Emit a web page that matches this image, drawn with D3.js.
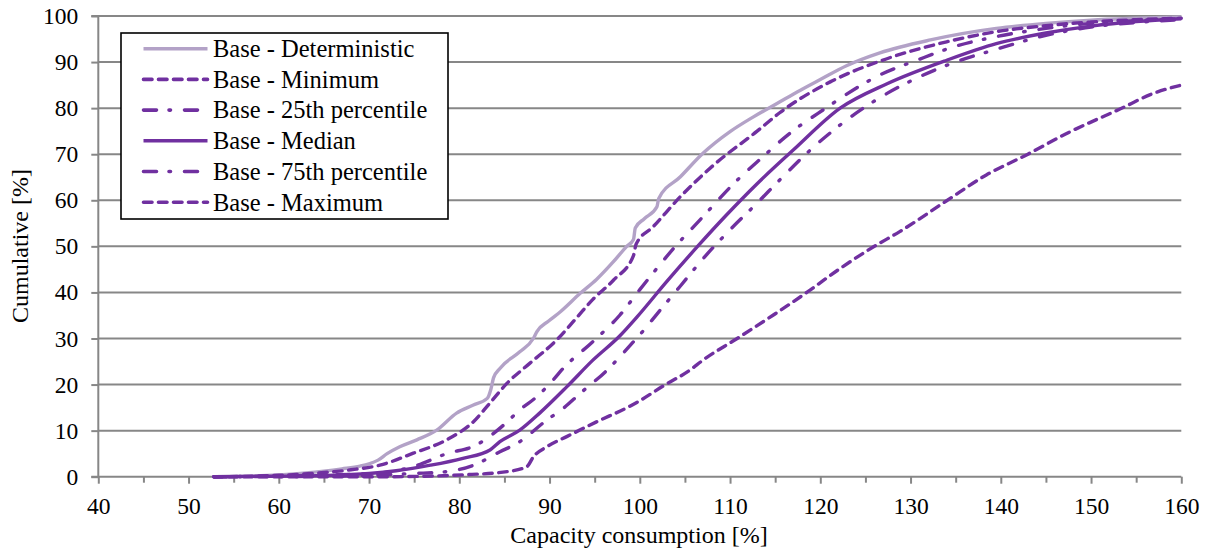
<!DOCTYPE html>
<html>
<head>
<meta charset="utf-8">
<script src="https://cdn.jsdelivr.net/npm/d3@7"></script>
<style>
  html, body { margin: 0; padding: 0; background: #ffffff; }
  svg { display: block; }
  text { font-family: "Liberation Serif", "Times New Roman", serif; fill: #000; }
</style>
</head>
<body>
<svg id="chart" width="1209" height="551"></svg>
<script>
// Cumulative distributions of capacity consumption: [capacity %, cumulative %]
const deterministic = [[52.8,0],[56,0.1],[60,0.4],[63,0.8],[65,1.2],[67,1.7],[69,2.3],[70,2.8],[71,3.6],[72,5],[73.4,6.5],[75.3,8.0],[77.5,10.1],[79.7,13.8],[81.5,15.5],[83.1,17.0],[83.5,19],[83.8,21.5],[84.5,23.5],[86.7,27.1],[88.2,30.0],[88.6,31.5],[89.9,33.8],[91.2,35.8],[93.4,39.8],[95.2,42.8],[97,46.5],[98.5,49.9],[99.3,51.5],[99.5,54],[100.5,56],[101.9,58.6],[102.1,60.4],[104.5,65.1],[107,70.2],[110,74.9],[112.5,78],[115.2,81.0],[117.8,83.9],[120,86.2],[122.9,89.2],[126.6,92.0],[132.2,94.8],[139.5,97.3],[145,98.4],[150,99.1],[155,99.5],[160,99.8]];
const minimum = [[52.8,0],[57,0.1],[60,0.3],[65,0.9],[68,1.5],[71.2,2.5],[74.9,5.1],[78.6,8.0],[81.6,12.0],[83.4,16.0],[85.3,20.3],[87.8,24.6],[90.8,29.7],[93,34.5],[94.8,38.5],[97.1,42.7],[99.3,48],[99.6,50.5],[101.5,54.3],[104.5,60.8],[108.1,67.5],[113,75.0],[115.5,79.0],[121.1,85.7],[126.6,90.2],[134,94.4],[139.5,96.6],[145,97.9],[150,98.7],[155,99.2],[160,99.5]];
const pct25 = [[52.8,0],[60,0.15],[65,0.35],[68,0.5],[71.2,0.8],[74.9,2.2],[78.6,5.0],[81.9,6.9],[83.8,9.4],[85.3,11.9],[86.7,14.5],[88.6,17.4],[90.4,21.0],[91.5,23.5],[94.8,29.3],[97.8,35.1],[100,40.6],[101.1,43.3],[103.9,49.9],[106.7,55.8],[110.5,63.8],[113.5,69.2],[116.6,74.5],[120.3,79.6],[126.6,87.2],[130.7,90.4],[135.1,93.5],[139.2,95.4],[145,97.3],[150,98.4],[155,99.0],[160,99.4]];
const median = [[52.8,0],[60,0.1],[65,0.25],[70,0.7],[73,1.3],[76.8,2.5],[80.4,4.0],[83.4,5.8],[84.5,7.6],[86.7,10.1],[88.9,13.8],[91.9,19.5],[94.8,25.3],[97.8,30.6],[99.7,34.7],[103,42.4],[106.5,50.2],[109.6,56.8],[113,63.6],[117,70.9],[122.2,80.0],[127.4,85.3],[134,90.4],[139.5,94.0],[145,96.3],[150,97.8],[155,98.8],[160,99.4]];
const pct75 = [[52.8,0],[62,0.05],[66,0.1],[71.2,0.4],[75,0.7],[78.6,1.1],[81.6,2.5],[84.5,5.4],[86.7,7.6],[89.7,12.3],[91.5,14.8],[93.4,18.1],[96.2,22.8],[99.3,29.3],[100.4,31.7],[101.9,35.3],[104.5,41.4],[107,47.3],[110,53.6],[113,59.4],[115.5,64.4],[118.5,70.2],[122.9,77.4],[127.4,83.2],[131,86.8],[135.1,90.1],[139.2,92.6],[145,95.8],[150,97.6],[155,98.6],[160,99.2]];
const maximum = [[52.8,0],[65,0],[72,0],[76,0.1],[80.4,0.4],[85.3,1.1],[87.5,2.2],[88.2,4.3],[89.7,6.5],[91.9,8.7],[95.2,11.9],[98.9,15.3],[100,16.5],[102.6,19.7],[105.6,23.2],[107,25.3],[110.7,29.9],[114.8,35.1],[118.5,40.0],[122.2,45.2],[125.9,49.9],[128.8,53.2],[134,59.9],[138.4,65.5],[142.9,69.9],[147.3,74.5],[153.2,79.8],[156.9,83.2],[160,85.0]];

const seriesNames = ["Base - Deterministic","Base - Minimum","Base - 25th percentile","Base - Median","Base - 75th percentile","Base - Maximum"];
const xTicks = [40,50,60,70,80,90,100,110,120,130,140,150,160];
const xMinorTicks = [45,55,65,75,85,95,105,115,125,135,145,155];
const yTicks = [0,10,20,30,40,50,60,70,80,90,100];

const LIGHT = "#b3a2c7", PURPLE = "#7030a0";
const DASH = "8.5,6.5", DASHDOT = "13,12.5,1.5,14";
const styles = [
  {color: LIGHT,  dash: null},
  {color: PURPLE, dash: DASH},
  {color: PURPLE, dash: DASHDOT},
  {color: PURPLE, dash: null},
  {color: PURPLE, dash: DASHDOT},
  {color: PURPLE, dash: DASH}
];
const seriesData = [deterministic, minimum, pct25, median, pct75, maximum];

const svg = d3.select("#chart");
const plotLeft = 98.3, plotRight = 1181.3, plotTop = 16, plotBottom = 476.7;
const x = d3.scaleLinear().domain([40,160]).range([plotLeft, plotRight]);
const y = d3.scaleLinear().domain([0,100]).range([plotBottom, plotTop]);
const GRID = "#878787";

// horizontal gridlines
svg.append("g").selectAll("line").data(yTicks.filter(d => d > 0)).join("line")
  .attr("x1", plotLeft).attr("x2", plotRight)
  .attr("y1", d => y(d)).attr("y2", d => y(d))
  .attr("stroke", GRID).attr("stroke-width", 2);

// y axis
const yAxis = svg.append("g").attr("transform", `translate(${plotLeft},0)`)
  .call(d3.axisLeft(y).tickValues(yTicks).tickSize(7).tickPadding(13).tickFormat(d3.format("d")));
yAxis.select(".domain").attr("stroke", GRID).attr("stroke-width", 2).attr("d", `M-7,${plotTop}H0V${plotBottom}H-7`);
yAxis.selectAll(".tick line").attr("stroke", GRID).attr("stroke-width", 2);
yAxis.selectAll(".tick text").attr("font-size", 23.5).attr("fill", "#000");

// x axis with minor ticks
const xAxisMinor = svg.append("g").attr("transform", `translate(0,${plotBottom})`)
  .call(d3.axisBottom(x).tickValues(xMinorTicks).tickSize(6).tickFormat(""));
xAxisMinor.select(".domain").remove();
xAxisMinor.selectAll(".tick line").attr("stroke", GRID).attr("stroke-width", 2);

const xAxis = svg.append("g").attr("transform", `translate(0,${plotBottom})`)
  .call(d3.axisBottom(x).tickValues(xTicks).tickSize(7).tickFormat(d3.format("d")));
xAxis.select(".domain").attr("stroke", GRID).attr("stroke-width", 2).attr("d", `M${plotLeft},0H${plotRight}`);
xAxis.selectAll(".tick line").attr("stroke", GRID).attr("stroke-width", 2);
xAxis.selectAll(".tick text").attr("font-size", 23.5)
  .attr("fill", "#000").attr("y", 37).attr("dy", 0);

// curves
const line = d3.line().x(d => x(d[0])).y(d => y(d[1])).curve(d3.curveMonotoneX);
svg.append("g").selectAll("path").data(seriesData).join("path")
  .attr("d", line)
  .attr("fill", "none")
  .attr("stroke", (d, i) => styles[i].color)
  .attr("stroke-width", 3.4)
  .attr("stroke-linecap", (d, i) => styles[i].dash ? "round" : "butt")
  .attr("stroke-linejoin", "round")
  .attr("stroke-dasharray", (d, i) => styles[i].dash);

// axis titles
svg.append("text").attr("x", 639).attr("y", 543).attr("text-anchor", "middle")
  .attr("font-size", 24).text("Capacity consumption [%]");
svg.append("text").attr("transform", "translate(28,246) rotate(-90)").attr("text-anchor", "middle")
  .attr("font-size", 24).text("Cumulative [%]");

// legend
const legend = svg.append("g");
legend.append("rect").attr("x", 121).attr("y", 33).attr("width", 327).attr("height", 186)
  .attr("fill", "#fff").attr("stroke", "#000").attr("stroke-width", 1.6);
const rowY = i => 48.7 + i * 30.7;
const rows = legend.selectAll("g.row").data(seriesNames).join("g").attr("class", "row");
rows.append("line")
  .attr("x1", 143.5).attr("x2", 207.5)
  .attr("y1", (d, i) => rowY(i)).attr("y2", (d, i) => rowY(i))
  .attr("stroke", (d, i) => styles[i].color)
  .attr("stroke-width", 3.6)
  .attr("stroke-linecap", (d, i) => styles[i].dash ? "round" : "butt")
  .attr("stroke-dasharray", (d, i) => styles[i].dash);
rows.append("text")
  .attr("x", 213).attr("y", (d, i) => rowY(i) + 8.3)
  .attr("font-size", 24.5).text(d => d);
</script>
</body>
</html>
